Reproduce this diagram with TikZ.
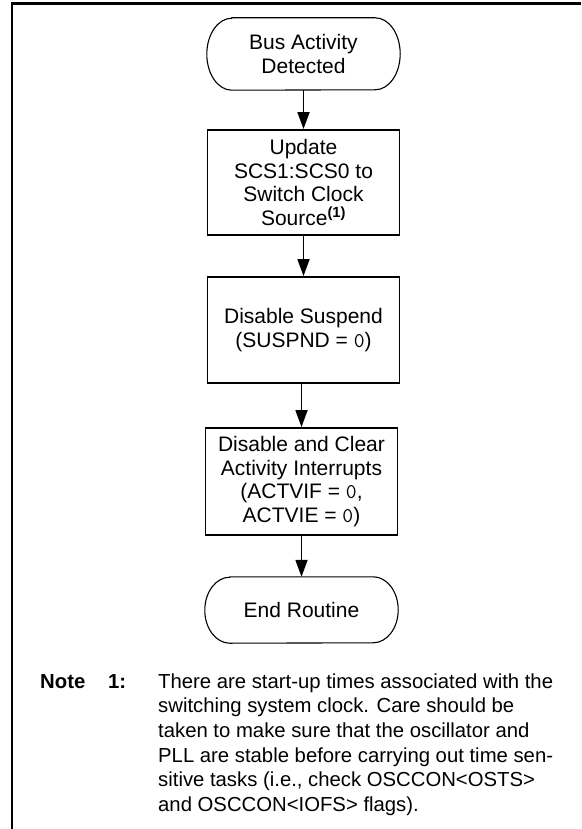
\documentclass[tikz,border=0pt]{standalone}
\usepackage{fontspec}
\setmainfont{Liberation Sans}
\usetikzlibrary{arrows.meta}
\newcommand{\zr}{\texttt{0}}
\tikzset{
  boxtext/.style={font=\fontsize{21}{23.5}\selectfont, align=center, inner sep=0pt},
  procbox/.style={boxtext, draw, line width=1.9pt, minimum width=192pt, minimum height=106pt},
  term/.style={boxtext, minimum width=193pt},
  termline/.style={line width=1.1pt},
  flow/.style={line width=1.8pt, -{Triangle[length=17pt,width=12pt]}},
  notetext/.style={font=\fontsize{20.3}{24.6}\selectfont, inner sep=0pt}
}
\begin{document}
\begin{tikzpicture}[x=1pt,y=1pt]
\useasboundingbox (0,0) rectangle (581,-829);
% frame
\draw[line width=2.2pt] (12,-829) -- (12,-3.5) -- (581,-3.5);

% nodes
\node[term, minimum height=72pt] (s) at (303.5,-54) {Bus Activity\\Detected};
\node[procbox, minimum height=105pt] (b1) at (303.5,-182.5) {Update\\SCS1:SCS0 to\\Switch Clock\\Source\textsuperscript{\textbf{(1)}}};
\node[procbox] (b2) at (303.5,-330) {Disable Suspend\\(SUSPND = \zr)};
\node[procbox, minimum height=107pt] (b3) at (301.5,-481.5) {Disable and Clear\\Activity Interrupts\\(ACTVIF = \zr,\\ACTVIE = \zr)};
\node[term, minimum height=66pt] (e) at (301.5,-610) {End Routine};

% terminator outlines
\draw[termline] ([xshift=25pt]s.north west) -- ([xshift=-25pt]s.north east)
  arc[start angle=90,end angle=-90,x radius=25pt,y radius=36pt]
  -- ([xshift=25pt]s.south west)
  arc[start angle=270,end angle=90,x radius=25pt,y radius=36pt] -- cycle;
\draw[termline] ([xshift=25pt]e.north west) -- ([xshift=-25pt]e.north east)
  arc[start angle=90,end angle=-90,x radius=25pt,y radius=33pt]
  -- ([xshift=25pt]e.south west)
  arc[start angle=270,end angle=90,x radius=25pt,y radius=33pt] -- cycle;

% connectors
\draw[flow] (s.south) -- (b1.north);
\draw[flow] (b1.south) -- (b2.north);
\draw[flow] (b2.south -| b3.north) -- (b3.north);
\draw[flow] (b3.south) -- (e.north);

% note
\node[notetext, anchor=base west, font=\fontsize{20.3}{24.6}\selectfont\bfseries] (nl) at (40,-688) {Note};
\node[notetext, anchor=base west, font=\fontsize{20.3}{24.6}\selectfont\bfseries] (nn) at (108,-688) {1:};
\node[notetext, anchor=north west, align=left] (nt) at (158,-673.4) {There are start-up times associated with the\\switching system clock. Care should be\\taken to make sure that the oscillator and\\PLL are stable before carrying out time sen-\\sitive tasks (i.e., check OSCCON<OSTS>\\and OSCCON<IOFS> flags).};
\end{tikzpicture}
\end{document}
